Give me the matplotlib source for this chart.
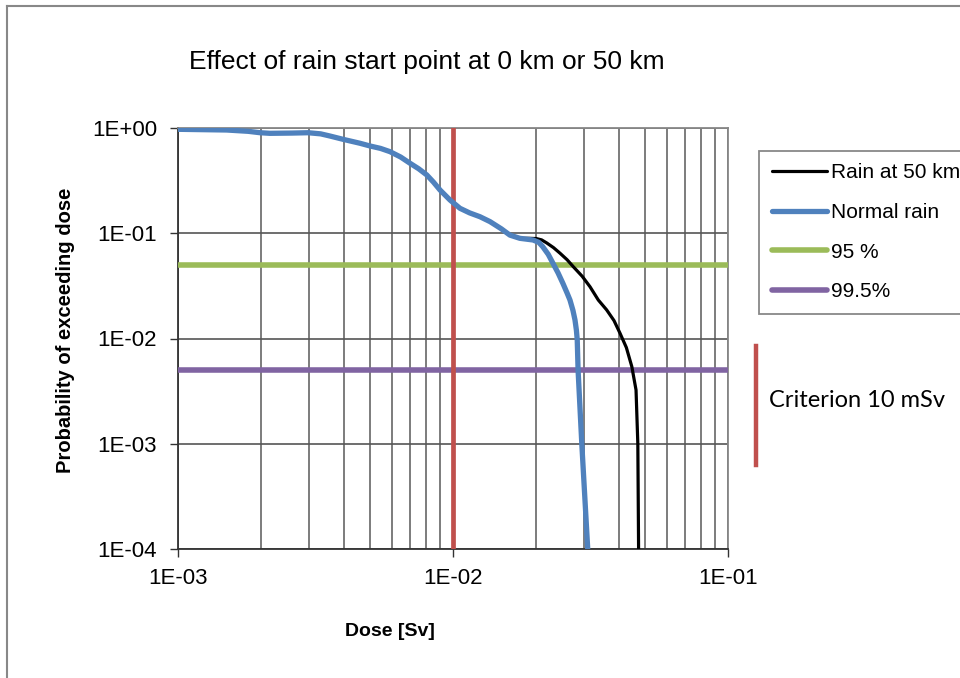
import matplotlib
matplotlib.use("Agg")
import matplotlib.pyplot as plt
from matplotlib.lines import Line2D
from matplotlib.ticker import LogLocator, FuncFormatter, NullLocator

# ---------------- data ----------------
normal_dose = [1.0e-3, 1.503e-3, 1.8e-3, 1.987e-3, 2.16e-3, 2.6e-3, 2.97e-3, 3.3e-3, 3.57e-3,
               3.98e-3, 4.59e-3, 4.99e-3, 5.45e-3, 5.9e-3, 6.45e-3, 6.98e-3, 7.5e-3, 8.03e-3,
               8.5e-3, 8.97e-3, 9.75e-3, 1.06e-2, 1.15e-2, 1.253e-2, 1.363e-2, 1.5e-2, 1.61e-2,
               1.75e-2, 1.954e-2, 2.05e-2, 2.12e-2, 2.22e-2, 2.31e-2, 2.41e-2, 2.51e-2,
               2.6e-2, 2.663e-2, 2.73e-2, 2.777e-2, 2.81e-2, 2.83e-2, 2.85e-2, 2.94e-2, 3.09e-2]
normal_prob = [0.972, 0.957, 0.93, 0.902, 0.89, 0.895, 0.902, 0.88, 0.839,
               0.781, 0.716, 0.675, 0.64, 0.596, 0.53, 0.462, 0.41, 0.358,
               0.305, 0.2575, 0.207, 0.1726, 0.156, 0.1436, 0.129, 0.11, 0.096,
               0.0895, 0.0863, 0.082, 0.0745, 0.063, 0.0518, 0.042, 0.0334,
               0.027, 0.0232, 0.0185, 0.015, 0.012, 0.00968, 0.005, 0.001, 1.0e-4]

rain50_dose = [1.0e-3, 1.503e-3, 1.8e-3, 1.987e-3, 2.16e-3, 2.6e-3, 2.97e-3, 3.3e-3, 3.57e-3,
               3.98e-3, 4.59e-3, 4.99e-3, 5.45e-3, 5.9e-3, 6.45e-3, 6.98e-3, 7.5e-3, 8.03e-3,
               8.5e-3, 8.97e-3, 9.75e-3, 1.06e-2, 1.15e-2, 1.253e-2, 1.363e-2, 1.5e-2, 1.61e-2,
               1.75e-2, 1.9e-2, 2.01e-2, 2.1e-2, 2.19e-2, 2.32e-2, 2.45e-2, 2.6e-2, 2.74e-2,
               2.95e-2, 3.15e-2, 3.376e-2, 3.62e-2, 3.85e-2, 4.05e-2, 4.27e-2, 4.47e-2,
               4.63e-2, 4.70e-2, 4.73e-2]
rain50_prob = [0.972, 0.957, 0.93, 0.902, 0.89, 0.895, 0.902, 0.88, 0.839,
               0.781, 0.716, 0.675, 0.64, 0.596, 0.53, 0.462, 0.41, 0.358,
               0.305, 0.2575, 0.207, 0.1726, 0.156, 0.1436, 0.129, 0.11, 0.096,
               0.0895, 0.0895, 0.089, 0.0865, 0.081, 0.073, 0.0646, 0.056, 0.048,
               0.039, 0.031, 0.0232, 0.0187, 0.0148, 0.0112, 0.0082, 0.0054,
               0.00324, 0.001, 1.0e-4]

level_95 = 0.05
level_995 = 0.005
criterion_dose = 0.01

x_limits = [1e-3, 1e-1]
y_limits = [1e-4, 1e0]

title_text = "Effect of rain start point at 0 km or 50 km"
x_label = "Dose [Sv]"
y_label = "Probability of exceeding dose"
labels = ["Rain at 50 km", "Normal rain", "95 %", "99.5%"]
criterion_text = "Criterion 10 mSv"

# ---------------- figure ----------------
W, H = 960, 678
fig = plt.figure(figsize=(W / 100, H / 100), dpi=100)
fig.patch.set_facecolor("white")
plt.rcParams["font.family"] = ["Liberation Sans", "DejaVu Sans"]

def fx(px):
    return px / W

def fy(py):
    return 1 - py / H

ax = fig.add_axes([fx(178), fy(549), fx(728) - fx(178), fy(128) - fy(549)])
ax.set_xscale("log")
ax.set_yscale("log")
ax.set_xlim(x_limits)
ax.set_ylim(y_limits)

c_black = "#000000"
c_blue = "#4F81BD"
c_green = "#9BBB59"
c_purple = "#8064A2"
c_red = "#C0504D"

l1, = ax.plot(rain50_dose, rain50_prob, color=c_black, lw=2.3, label=labels[0],
              solid_capstyle="round", solid_joinstyle="round", zorder=4)
l2, = ax.plot(normal_dose, normal_prob, color=c_blue, lw=3.8, label=labels[1],
              solid_capstyle="round", solid_joinstyle="round", zorder=5)
l3 = ax.axhline(level_95, color=c_green, lw=4.0, label=labels[2],
                solid_capstyle="round", zorder=3)
l4 = ax.axhline(level_995, color=c_purple, lw=4.0, label=labels[3],
                solid_capstyle="round", zorder=3)
ax.axvline(criterion_dose, color=c_red, lw=3.4, zorder=3.5)

# grid and ticks
ax.xaxis.set_major_locator(LogLocator(base=10, numticks=10))
ax.xaxis.set_minor_locator(LogLocator(base=10, subs=range(2, 10), numticks=20))
ax.yaxis.set_major_locator(LogLocator(base=10, numticks=10))
ax.yaxis.set_minor_locator(NullLocator())
fmt = FuncFormatter(lambda v, p: f"{v:.0E}")
ax.xaxis.set_major_formatter(fmt)
ax.yaxis.set_major_formatter(fmt)
ax.xaxis.set_minor_formatter(FuncFormatter(lambda v, p: ""))

ax.grid(which="major", axis="both", color="#555555", lw=1.2, zorder=1)
ax.grid(which="minor", axis="x", color="#666666", lw=1.2, zorder=1)
ax.set_axisbelow(True)

ax.tick_params(axis="both", which="major", direction="out", length=6, width=1,
               color="#333333", labelsize=16, pad=9)
ax.tick_params(axis="x", which="major", pad=8)
ax.tick_params(axis="both", which="minor", length=0)

for s in ["left", "bottom"]:
    ax.spines[s].set_color("#333333")
    ax.spines[s].set_linewidth(1.3)
for s in ["top", "right"]:
    ax.spines[s].set_color("#888888")
    ax.spines[s].set_linewidth(1.3)

# texts
fig.text(fx(427), fy(62), title_text, ha="center", va="center", fontsize=19)
fig.text(fx(390), fy(632), x_label, ha="center", va="center", fontsize=14,
         fontweight="bold")
fig.text(fx(66), fy(330), y_label, ha="center", va="center", fontsize=14.5,
         fontweight="bold", rotation=90)

# legend
leg = ax.legend(handles=[l1, l2, l3, l4], loc="upper left",
                bbox_to_anchor=(fx(759), fy(151)), bbox_transform=fig.transFigure,
                fontsize=15, frameon=True, fancybox=False, shadow=False,
                borderaxespad=0, borderpad=0.6, labelspacing=0.99,
                handlelength=2.65, handletextpad=0.2, framealpha=1)
leg.get_frame().set_edgecolor("#888888")
leg.get_frame().set_linewidth(1.3)

# criterion marker and text
fig.add_artist(Line2D([fx(756), fx(756)], [fy(346), fy(465)], color=c_red, lw=3.2,
                      transform=fig.transFigure))
fig.text(fx(769), fy(401), criterion_text, ha="left", va="center", fontsize=17,
         family=["Lato", "DejaVu Sans"])

# outer chart frame (left and top edges visible)
fig.add_artist(Line2D([fx(7), fx(7)], [fy(6), 0], color="#888888", lw=1.5,
                      transform=fig.transFigure))
fig.add_artist(Line2D([fx(7), 1], [fy(6), fy(6)], color="#888888", lw=1.5,
                      transform=fig.transFigure))

fig.savefig("out.png", dpi=100, facecolor="white")
